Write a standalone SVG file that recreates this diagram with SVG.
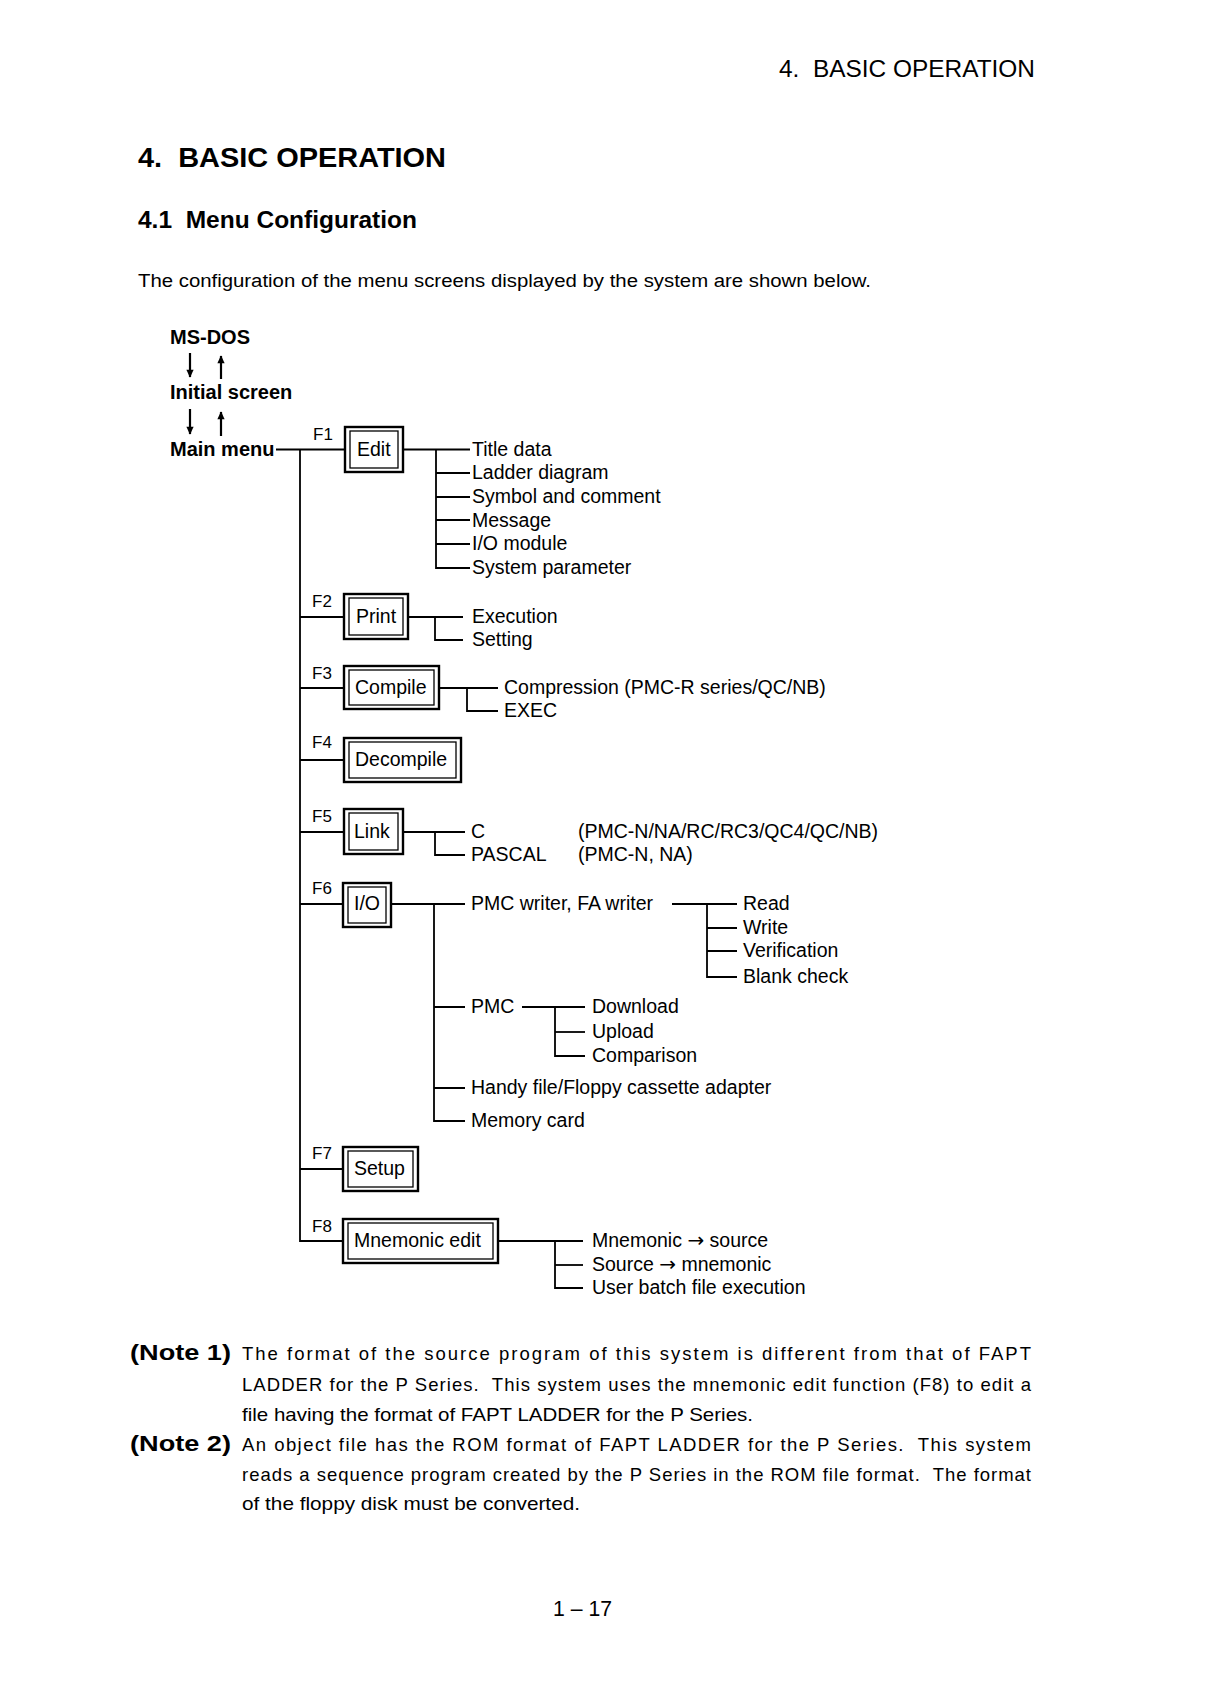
<svg xmlns="http://www.w3.org/2000/svg" width="1210" height="1696" viewBox="0 0 1210 1696">
<style>
  text { font-family: "Liberation Sans", Arial, sans-serif; fill: #000; }
  .hdr { font-size: 23px; }
  .title { font-size: 28px; font-weight: bold; }
  .sub { font-size: 24px; font-weight: bold; }
  .para { font-size: 18px; }
  .bold { font-size: 20px; font-weight: bold; }
  .fk { font-size: 17px; }
  .lbl { font-size: 19.5px; }
  .item { font-size: 19.5px; }
  .ar { font-family: "DejaVu Sans", sans-serif; font-size: 20px; }
  .note { font-size: 22px; font-weight: bold; }
  .body { font-size: 18.5px; }
  .pg { font-size: 22px; }
  .outer { fill: #fff; stroke: #000; stroke-width: 2.4; }
  .inner { fill: none; stroke: #000; stroke-width: 1.3; }
  .conn path { fill: none; stroke: #000; stroke-width: 1.8; }
  .arr { stroke: #000; stroke-width: 2.2; fill: none; }
</style>
<defs>
  <marker id="ah" viewBox="0 0 10 10" refX="9" refY="5" markerUnits="userSpaceOnUse" markerWidth="11" markerHeight="8" orient="auto">
    <path d="M0,0.5 L10,5 L0,9.5 z" fill="#000"/>
  </marker>
</defs>
<rect width="1210" height="1696" fill="#fff"/>

<text class="hdr" x="779" y="77" textLength="256" lengthAdjust="spacingAndGlyphs" xml:space="preserve">4.  BASIC OPERATION</text>
<text class="title" x="138" y="167" textLength="308" lengthAdjust="spacingAndGlyphs" xml:space="preserve">4.  BASIC OPERATION</text>
<text class="sub" x="138" y="228" textLength="279" lengthAdjust="spacingAndGlyphs" xml:space="preserve">4.1  Menu Configuration</text>
<text class="para" x="138" y="287" textLength="733" lengthAdjust="spacingAndGlyphs">The configuration of the menu screens displayed by the system are shown below.</text>

<g id="msdos"><text class="bold" x="170" y="344">MS-DOS</text></g>
<g id="initial"><text class="bold" x="170" y="399">Initial screen</text></g>
<g id="mainmenu"><text class="bold" x="170" y="456">Main menu</text></g>

<g id="arrows">
  <line class="arr" x1="190" y1="353" x2="190" y2="377" marker-end="url(#ah)"/>
  <line class="arr" x1="221" y1="379" x2="221" y2="356" marker-end="url(#ah)"/>
  <line class="arr" x1="190" y1="409" x2="190" y2="434" marker-end="url(#ah)"/>
  <line class="arr" x1="221" y1="436" x2="221" y2="412" marker-end="url(#ah)"/>
</g>

<g class="conn" id="connectors">
  <path d="M276,449.5 H345"/>
  <path d="M300,449.5 V1241 H343"/>
  <path d="M300,617 H344"/>
  <path d="M300,688 H344"/>
  <path d="M300,760 H344"/>
  <path d="M300,832 H344"/>
  <path d="M300,904 H343"/>
  <path d="M300,1169 H343"/>
  <path d="M403,449.5 H470"/>
  <path d="M436,449.5 V568 H470"/>
  <path d="M436,473 H470 M436,497 H470 M436,520 H470 M436,544 H470"/>
  <path d="M408,617 H463"/>
  <path d="M435,617 V640 H463"/>
  <path d="M439,688 H498"/>
  <path d="M467,688 V711 H498"/>
  <path d="M403,832 H465"/>
  <path d="M435,832 V855 H465"/>
  <path d="M391,904 H465"/>
  <path d="M434,904 V1121 H465"/>
  <path d="M434,1007 H465 M434,1088 H465"/>
  <path d="M672,904 H737"/>
  <path d="M707,904 V977 H737"/>
  <path d="M707,928 H737 M707,951 H737"/>
  <path d="M522,1007 H585"/>
  <path d="M555,1007 V1056 H585"/>
  <path d="M555,1032 H585"/>
  <path d="M498,1241 H583"/>
  <path d="M555,1241 V1288 H583"/>
  <path d="M555,1265 H583"/>
</g>

<g id="f1">
  <text class="fk" x="313" y="440">F1</text>
  <rect class="outer" x="345" y="427" width="58" height="45"/>
  <rect class="inner" x="350" y="431" width="48" height="37"/>
  <text class="lbl" x="357" y="456">Edit</text>
</g>
<g id="edit-items">
  <text class="item" x="472" y="456">Title data</text>
  <text class="item" x="472" y="479">Ladder diagram</text>
  <text class="item" x="472" y="503">Symbol and comment</text>
  <text class="item" x="472" y="527">Message</text>
  <text class="item" x="472" y="550">I/O module</text>
  <text class="item" x="472" y="574">System parameter</text>
</g>

<g id="f2">
  <text class="fk" x="312" y="607">F2</text>
  <rect class="outer" x="344" y="594" width="64" height="45"/>
  <rect class="inner" x="349" y="598" width="54" height="37"/>
  <text class="lbl" x="356" y="623">Print</text>
</g>
<g id="print-items">
  <text class="item" x="472" y="623">Execution</text>
  <text class="item" x="472" y="646">Setting</text>
</g>

<g id="f3">
  <text class="fk" x="312" y="679">F3</text>
  <rect class="outer" x="344" y="666" width="95" height="43"/>
  <rect class="inner" x="349" y="670" width="85" height="35"/>
  <text class="lbl" x="355" y="694">Compile</text>
</g>
<g id="compile-items">
  <text class="item" x="504" y="694">Compression (PMC-R series/QC/NB)</text>
  <text class="item" x="504" y="717">EXEC</text>
</g>

<g id="f4">
  <text class="fk" x="312" y="748">F4</text>
  <rect class="outer" x="344" y="738" width="117" height="44"/>
  <rect class="inner" x="349" y="742" width="107" height="36"/>
  <text class="lbl" x="355" y="766">Decompile</text>
</g>

<g id="f5">
  <text class="fk" x="312" y="822">F5</text>
  <rect class="outer" x="344" y="809" width="59" height="45"/>
  <rect class="inner" x="349" y="813" width="49" height="37"/>
  <text class="lbl" x="354" y="838">Link</text>
</g>
<g id="link-items">
  <text class="item" x="471" y="838">C</text>
  <text class="item" x="471" y="861">PASCAL</text>
  <text class="item" x="578" y="838">(PMC-N/NA/RC/RC3/QC4/QC/NB)</text>
  <text class="item" x="578" y="861">(PMC-N, NA)</text>
</g>

<g id="f6">
  <text class="fk" x="312" y="894">F6</text>
  <rect class="outer" x="343" y="883" width="48" height="44"/>
  <rect class="inner" x="348" y="887" width="38" height="36"/>
  <text class="lbl" x="354" y="910">I/O</text>
</g>
<g id="io-items">
  <text class="item" x="471" y="910">PMC writer, FA writer</text>
  <text class="item" x="743" y="910">Read</text>
  <text class="item" x="743" y="934">Write</text>
  <text class="item" x="743" y="957">Verification</text>
  <text class="item" x="743" y="983">Blank check</text>
  <text class="item" x="471" y="1013">PMC</text>
  <text class="item" x="592" y="1013">Download</text>
  <text class="item" x="592" y="1038">Upload</text>
  <text class="item" x="592" y="1062">Comparison</text>
  <text class="item" x="471" y="1094">Handy file/Floppy cassette adapter</text>
  <text class="item" x="471" y="1127">Memory card</text>
</g>

<g id="f7">
  <text class="fk" x="312" y="1159">F7</text>
  <rect class="outer" x="343" y="1147" width="75" height="44"/>
  <rect class="inner" x="348" y="1151" width="65" height="36"/>
  <text class="lbl" x="354" y="1175">Setup</text>
</g>

<g id="f8">
  <text class="fk" x="312" y="1232">F8</text>
  <rect class="outer" x="343" y="1219" width="155" height="44"/>
  <rect class="inner" x="348" y="1223" width="145" height="36"/>
  <text class="lbl" x="354" y="1247">Mnemonic edit</text>
</g>
<g id="mnemonic-items">
  <text class="item" x="592" y="1247" xml:space="preserve">Mnemonic <tspan class="ar">→</tspan> source</text>
  <text class="item" x="592" y="1271" xml:space="preserve">Source <tspan class="ar">→</tspan> mnemonic</text>
  <text class="item" x="592" y="1294">User batch file execution</text>
</g>

<g id="notes">
  <text class="note" x="130" y="1360" textLength="101" lengthAdjust="spacingAndGlyphs">(Note 1)</text>
  <text class="body" x="242" y="1360" textLength="789" lengthAdjust="spacing">The format of the source program of this system is different from that of FAPT</text>
  <text class="body" x="242" y="1391" textLength="789" lengthAdjust="spacing" xml:space="preserve">LADDER for the P Series.  This system uses the mnemonic edit function (F8) to edit a</text>
  <text class="body" x="242" y="1421" textLength="511" lengthAdjust="spacingAndGlyphs">file having the format of FAPT LADDER for the P Series.</text>
  <text class="note" x="130" y="1451" textLength="101" lengthAdjust="spacingAndGlyphs">(Note 2)</text>
  <text class="body" x="242" y="1451" textLength="789" lengthAdjust="spacing" xml:space="preserve">An object file has the ROM format of FAPT LADDER for the P Series.  This system</text>
  <text class="body" x="242" y="1481" textLength="789" lengthAdjust="spacing" xml:space="preserve">reads a sequence program created by the P Series in the ROM file format.  The format</text>
  <text class="body" x="242" y="1510" textLength="338" lengthAdjust="spacingAndGlyphs">of the floppy disk must be converted.</text>
</g>

<text class="pg" x="553" y="1616" textLength="59" lengthAdjust="spacingAndGlyphs">1 – 17</text>
</svg>
